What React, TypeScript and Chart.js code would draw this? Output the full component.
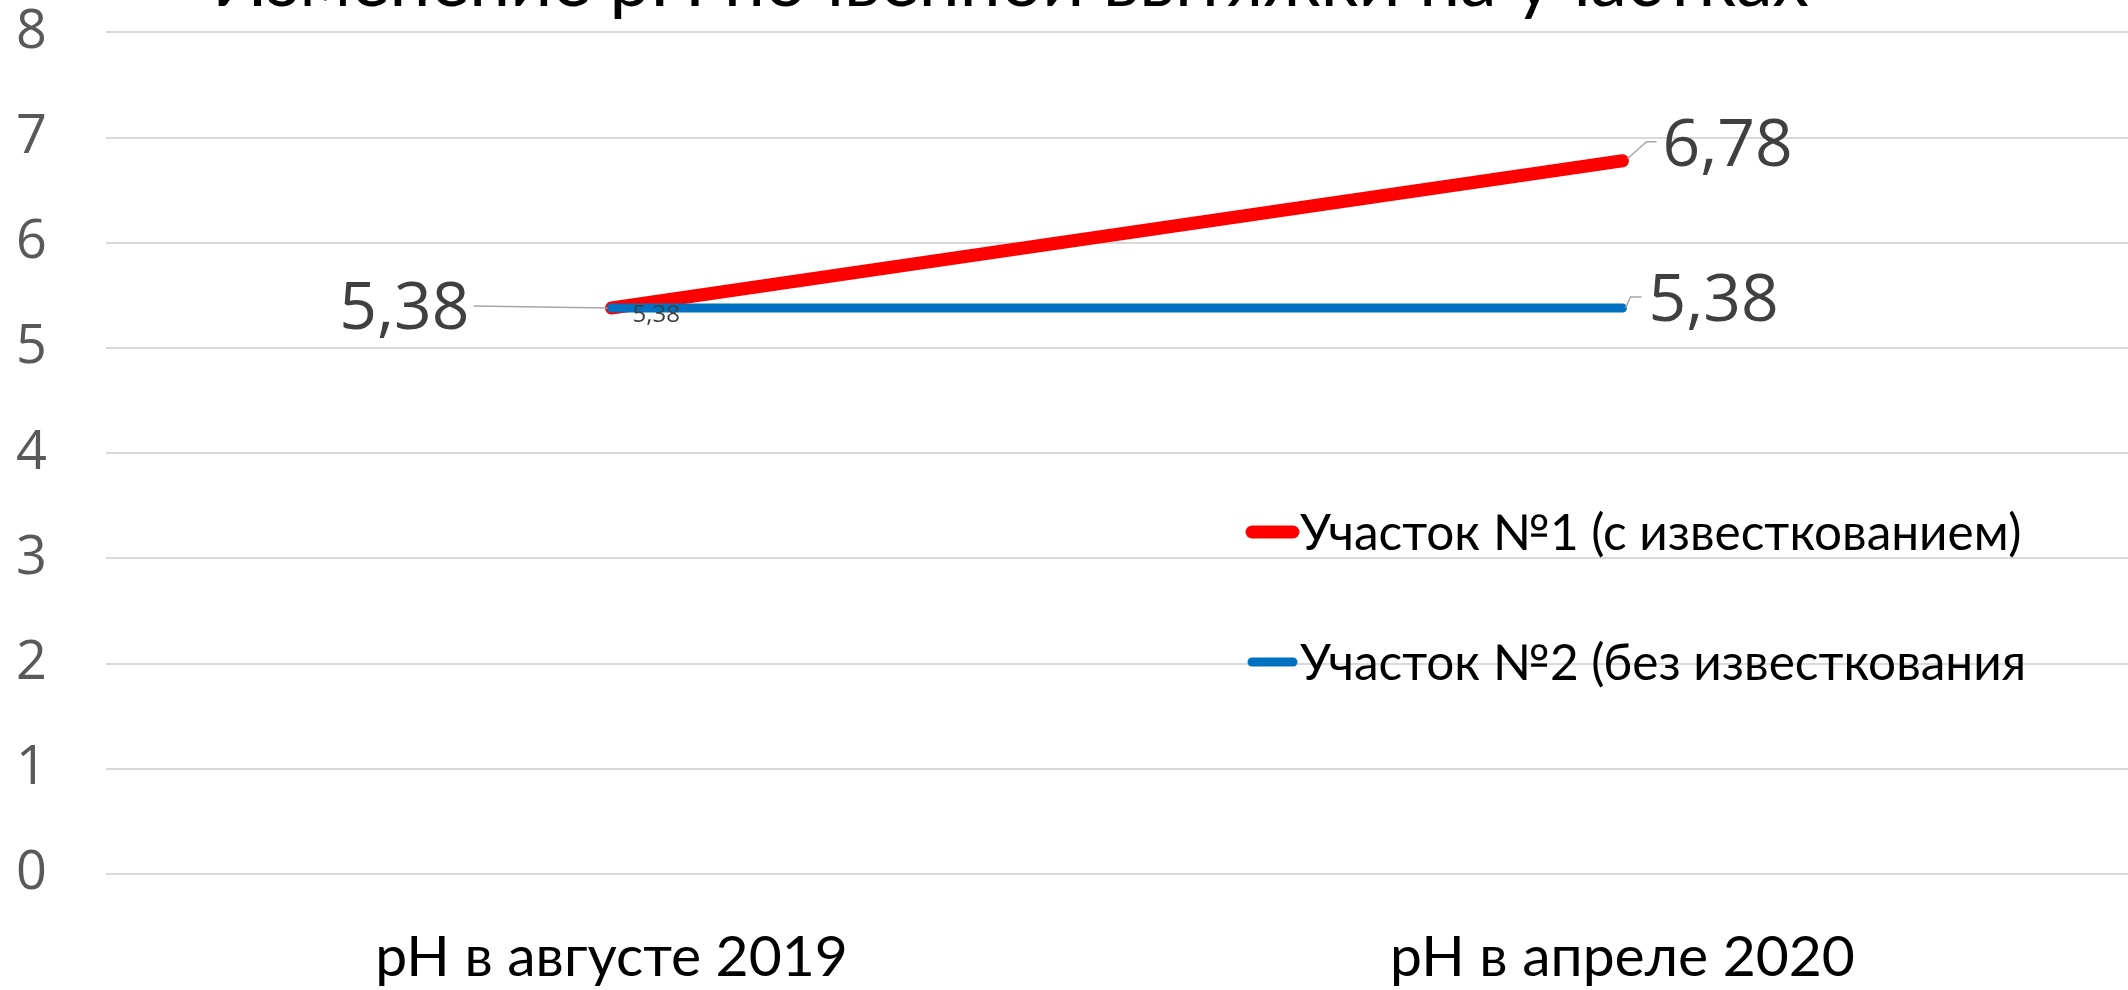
import React, { useEffect, useRef } from "react";
import { Chart, registerables } from "chart.js";

Chart.register(...registerables);

const chartTitle = "Изменение pH почвенной вытяжки на участках";
const categories = ["pH в августе 2019", "pH в апреле 2020"];
const seriesNames = ["Участок №1 (с известкованием)", "Участок №2 (без известкования"];
const site1 = [5.38, 6.78];
const site2 = [5.38, 5.38];
const yMin = 0;
const yMax = 8;
const yStep = 1;
const seriesColors = ["#FF0000", "#0070C0"];

const fmt = (v: number) => v.toFixed(2).replace(".", ",");

const decorPlugin = {
  id: "decor",
  afterDatasetsDraw(chart: any) {
    const ctx = chart.ctx;
    ctx.save();
    ctx.fillStyle = "#000";
    ctx.font = "73px Lato";
    ctx.textAlign = "left";
    ctx.textBaseline = "alphabetic";
    ctx.fillText(chartTitle, 212, 6);

    const m0 = chart.getDatasetMeta(0).data;
    const m1 = chart.getDatasetMeta(1).data;
    const lead = (pts: number[][]) => {
      ctx.strokeStyle = "#a6a6a6";
      ctx.lineWidth = 1.5;
      ctx.beginPath();
      pts.forEach((p, i) => (i ? ctx.lineTo(p[0], p[1]) : ctx.moveTo(p[0], p[1])));
      ctx.stroke();
    };
    const label = (txt: string, x: number, cy: number, size: number, align: string) => {
      ctx.fillStyle = "#404040";
      ctx.font = `${size}px "Open Sans"`;
      ctx.textAlign = align;
      ctx.textBaseline = "alphabetic";
      ctx.fillText(txt, x, cy + size * 0.357);
    };
    {
      const p = m0[0];
      lead([[p.x - 138, p.y - 2], [p.x - 4, p.y]]);
      label(fmt(site1[0]), p.x - 142, p.y - 3, 66, "right");
    }
    {
      const p = m0[1];
      lead([[p.x + 5, p.y - 2], [p.x + 24, p.y - 19], [p.x + 34, p.y - 19]]);
      label(fmt(site1[1]), p.x + 40, p.y - 18, 66, "left");
    }
    {
      const p = m1[1];
      lead([[p.x + 3, p.y], [p.x + 8, p.y - 11], [p.x + 19, p.y - 11]]);
      label(fmt(site2[1]), p.x + 26, p.y - 11, 66, "left");
    }
    {
      const p = m1[0];
      label(fmt(site2[0]), p.x + 21, p.y + 5, 24, "left");
    }

    const legendItems = [
      { y: 532, w: 13 },
      { y: 662, w: 9 },
    ];
    legendItems.forEach((it, i) => {
      ctx.strokeStyle = seriesColors[i];
      ctx.lineWidth = it.w;
      ctx.lineCap = "round";
      ctx.beginPath();
      ctx.moveTo(1252, it.y);
      ctx.lineTo(1293, it.y);
      ctx.stroke();
      ctx.fillStyle = "#000";
      ctx.font = "49.5px Lato";
      ctx.textAlign = "left";
      ctx.textBaseline = "alphabetic";
      ctx.fillText(seriesNames[i], 1300, it.y + 49.5 * 0.36);
    });
    ctx.restore();
  },
};

export default function App() {
  const ref = useRef<HTMLCanvasElement | null>(null);
  useEffect(() => {
    document.body.style.margin = "0";
    const chart = new Chart(ref.current as HTMLCanvasElement, {
      type: "line",
      data: {
        labels: categories,
        datasets: [
          {
            label: seriesNames[0],
            data: site1,
            borderColor: seriesColors[0],
            backgroundColor: seriesColors[0],
            borderWidth: 13,
            borderCapStyle: "round",
            pointRadius: 0,
            tension: 0,
            order: 1,
          },
          {
            label: seriesNames[1],
            data: site2,
            borderColor: seriesColors[1],
            backgroundColor: seriesColors[1],
            borderWidth: 9,
            borderCapStyle: "round",
            pointRadius: 0,
            tension: 0,
            order: 0,
          },
        ],
      },
      options: {
        animation: false,
        responsive: false,
        maintainAspectRatio: false,
        layout: { padding: { top: 31, left: 16, right: 0, bottom: 0 } },
        plugins: {
          legend: { display: false },
          title: { display: false },
          tooltip: { enabled: false },
        },
        scales: {
          x: {
            offset: true,
            grid: { display: false, drawTicks: false },
            border: { display: false },
            ticks: {
              font: { family: "Lato", size: 57 },
              color: "#000",
              padding: 49,
              maxRotation: 0,
            },
            afterFit: (s: any) => {
              s.height = 116;
            },
          },
          y: {
            min: yMin,
            max: yMax,
            ticks: {
              stepSize: yStep,
              font: { family: "Open Sans", size: 54 },
              color: "#595959",
              padding: 0,
              crossAlign: "far",
            },
            grid: { color: "#d9d9d9", lineWidth: 2, drawTicks: false },
            border: { display: false },
            afterFit: (s: any) => {
              s.width = 90;
            },
          },
        },
      },
      plugins: [decorPlugin],
    } as any);
    return () => chart.destroy();
  }, []);
  return (
    <div style={{ width: 2128, height: 990 }}>
      <canvas ref={ref} width={2128} height={990} />
    </div>
  );
}
